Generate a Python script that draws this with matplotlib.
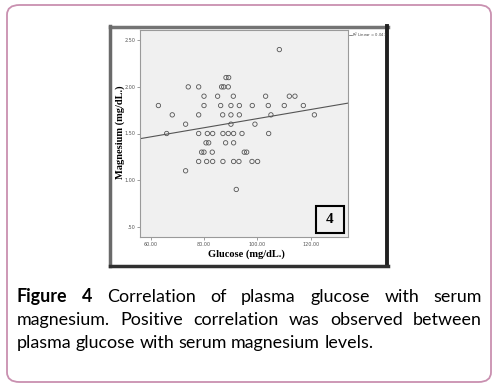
import numpy as np
import matplotlib.pyplot as plt
from matplotlib.patches import FancyBboxPatch, Rectangle
from matplotlib.lines import Line2D

# Punktene lest av figuren (glukose mg/dL, magnesium mg/dL)
glucose = [108.25,
           88.25, 89.25,
           74.1, 78.0, 86.6, 87.4, 89.1,
           80.0, 85.1, 91.0, 103.1, 112.0, 114.1,
           62.9, 80.0, 86.25, 90.1, 93.25, 98.1, 104.1, 110.1, 117.25,
           68.1, 78.0, 87.0, 90.1, 93.25, 105.1, 121.4,
           73.1, 90.1, 99.1,
           66.0, 78.0, 81.25, 83.25, 87.1, 89.1, 91.1, 94.25, 104.25,
           80.75, 81.75, 88.1, 91.1,
           79.1, 80.0, 83.1, 95.1, 96.0,
           78.0, 81.0, 83.25, 87.1, 91.1, 93.1, 98.0, 100.1,
           73.1,
           92.1]
magnesium = [2.4,
             2.1, 2.1,
             2.0, 2.0, 2.0, 2.0, 2.0,
             1.9, 1.9, 1.9, 1.9, 1.9, 1.9,
             1.8, 1.8, 1.8, 1.8, 1.8, 1.8, 1.8, 1.8, 1.8,
             1.7, 1.7, 1.7, 1.7, 1.7, 1.7, 1.7,
             1.6, 1.6, 1.6,
             1.5, 1.5, 1.5, 1.5, 1.5, 1.5, 1.5, 1.5, 1.5,
             1.4, 1.4, 1.4, 1.4,
             1.3, 1.3, 1.3, 1.3, 1.3,
             1.2, 1.2, 1.2, 1.2, 1.2, 1.2, 1.2, 1.2,
             1.1,
             0.9]

x_ticks = [60, 80, 100, 120]
x_ticklabels = ['60.00', '80.00', '100.00', '120.00']
y_ticks = [0.5, 1.0, 1.5, 2.0, 2.5]
y_ticklabels = ['.50', '1.00', '1.50', '2.00', '2.50']
r2_text = 'R$^2$ Linear = 0.043'

caption_lines = [
    [('Figure', True), ('4', True), ('Correlation', False), ('of', False), ('plasma', False),
     ('glucose', False), ('with', False), ('serum', False)],
    [('magnesium.', False), ('Positive', False), ('correlation', False), ('was', False),
     ('observed', False), ('between', False)],
    [('plasma', False), ('glucose', False), ('with', False), ('serum', False),
     ('magnesium', False), ('levels.', False)],
]

W, H = 502, 387
fig = plt.figure(figsize=(W / 100, H / 100), dpi=100)

def fx(px):
    return px / W

def fy(py):
    return 1 - py / H

# Rammen rundt hele figuren
fig.patches.append(FancyBboxPatch((fx(7), fy(382)), fx(484), 377 / H,
                                  boxstyle='round,pad=0,rounding_size=0.025',
                                  transform=fig.transFigure, facecolor='none',
                                  edgecolor='#c990b0', linewidth=1.3, zorder=-1))

# SPSS-bildets ramme
fig.lines.append(Line2D([fx(110), fx(388)], [fy(26.5), fy(26.5)], transform=fig.transFigure,
                        color='#747474', lw=2.5))
fig.lines.append(Line2D([fx(110.5), fx(110.5)], [fy(26), fy(266)], transform=fig.transFigure,
                        color='#6a6a6a', lw=2.5))
fig.lines.append(Line2D([fx(387.5), fx(387.5)], [fy(26), fy(266)], transform=fig.transFigure,
                        color='#202020', lw=2.8))
fig.lines.append(Line2D([fx(110), fx(388)], [fy(265.5), fy(265.5)], transform=fig.transFigure,
                        color='#303030', lw=2.5))

ax = fig.add_axes([fx(140), fy(237), fx(208), 207 / H])
ax.set_facecolor('#f0f0f0')
for s in ax.spines.values():
    s.set_color('#9a9a9a')
    s.set_linewidth(0.8)

ax.scatter(glucose, magnesium, s=10, facecolors='none', edgecolors='#555555', linewidths=0.6, zorder=3)

# Regresjonslinje
coef = np.polyfit(glucose, magnesium, 1)
xl = np.array([56, 134])
ax.plot(xl, np.polyval(coef, xl), color='#555555', lw=0.8)

ax.set_xlim(56, 134)
ax.set_ylim(0.39, 2.61)
ax.set_xticks(x_ticks)
ax.set_xticklabels(x_ticklabels)
ax.set_yticks(y_ticks)
ax.set_yticklabels(y_ticklabels)
ax.tick_params(labelsize=3.5, labelcolor='#555555', color='#777777', length=2.5, width=0.5, pad=1)

fig.text(fx(246), fy(254), 'Glucose (mg/dL.)', family='Liberation Serif', weight='bold',
         fontsize=7.5, ha='center', va='center')
fig.text(fx(120), fy(132), 'Magnesium (mg/dL.)', family='Liberation Serif', weight='bold',
         fontsize=7.5, ha='center', va='center', rotation=90)

fig.lines.append(Line2D([fx(349), fx(352)], [fy(35), fy(35)], transform=fig.transFigure,
                        color='#555555', lw=0.5))
fig.text(fx(352), fy(35), r2_text, fontsize=2.7, color='#444444', va='center', ha='left')

# Boksen med "4"
fig.patches.append(Rectangle((fx(316), fy(233)), fx(28), 27 / H, transform=fig.transFigure,
                             facecolor='none', edgecolor='black', linewidth=1.5, zorder=3))
fig.text(fx(330), fy(219.5), '4', family='Liberation Serif', weight='bold', fontsize=11,
         ha='center', va='center')

# Bildetekst, blokkjustert
left, right = 17, 482
baselines = [302, 325, 348]
fig.canvas.draw()
renderer = fig.canvas.get_renderer()
for li, (words, base) in enumerate(zip(caption_lines, baselines)):
    texts = [fig.text(0, fy(base), w, family='Lato', fontsize=12.9,
                      weight='bold' if b else 'normal', va='baseline', ha='left')
             for w, b in words]
    widths = [t.get_window_extent(renderer).width for t in texts]
    if li < len(caption_lines) - 1:
        gap = (right - left - sum(widths)) / (len(words) - 1)
    else:
        gap = 4.2
    x = left
    for t, wd in zip(texts, widths):
        t.set_x(fx(x))
        x += wd + gap

fig.savefig('out.png', dpi=100)
